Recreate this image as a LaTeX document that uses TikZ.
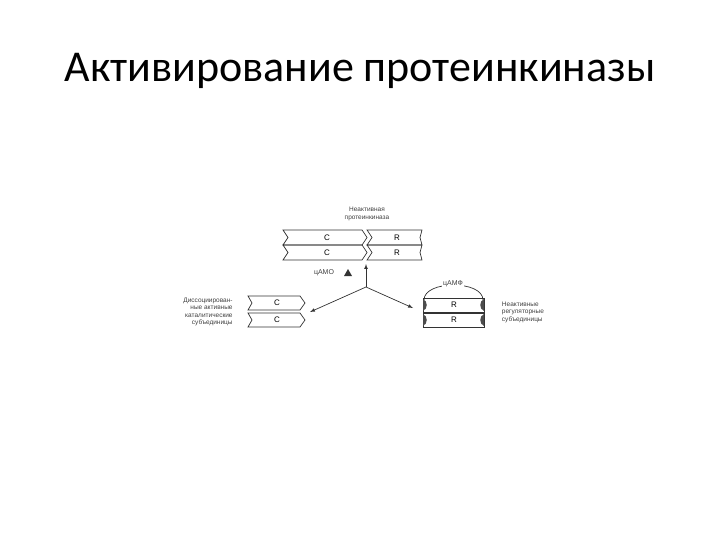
\documentclass[tikz,border=0pt]{standalone}
\usepackage{fontspec}
\setmainfont{Carlito}
\newfontfamily\smallf{Liberation Sans}
\begin{document}
\begin{tikzpicture}[x=1pt,y=-1pt,
  lbl/.style={font=\smallf\fontsize{6.5}{7.5}\selectfont, align=center, text=black!75},
  boxtxt/.style={font=\smallf\fontsize{8}{9}\selectfont},
  ln/.style={draw=black!80, line width=0.7pt},
  arr/.style={ln, -latex}]
\useasboundingbox (0,0) rectangle (720,540);
\node[font=\fontsize{44}{48}\selectfont] (title) at (360,71) {Активирование протеинкиназы};
% top complex
\node[lbl] (top) at (367,214) {Неактивная\\протеинкиназа};
\foreach \y/\n in {230/1,245/2}{
  \draw[ln] (283,\y) -- (362,\y) -- (367,\y+7.5) -- (362,\y+15) -- (283,\y+15) -- (288,\y+7.5) -- cycle;
  \draw[ln] (367,\y) -- (422,\y) -- (420,\y+7.5) -- (422,\y+15) -- (367,\y+15) -- (372,\y+7.5) -- cycle;
  \node[boxtxt] (c\n) at (327,\y+7.5) {C};
  \node[boxtxt] (r\n) at (397,\y+7.5) {R};
}
\coordinate (j) at (366,287);
\coordinate (up) at (366,264);
\draw[arr] (j) -- (up);
\node[lbl, font=\smallf\fontsize{7}{8}\selectfont] (camp1) at (324,273) {цАМО};
\fill[black!80] (344,276) -- (352,276) -- (348,269) -- cycle;
\coordinate (la) at (310,312);
\coordinate (ra) at (413,308);
\draw[arr] (j) -- (la);
\draw[arr] (j) -- (ra);
% left C
\foreach \y/\n in {296/3,313/4}{
  \draw[ln] (248,\y) -- (300,\y) -- (305,\y+7) -- (300,\y+14) -- (248,\y+14) -- (252,\y+7) -- cycle;
  \node[boxtxt] (c\n) at (277,\y+7) {C};
}
\node[lbl, align=right] (ll) at (208,312) {Диссоциирован-\\ные активные\\каталитические\\субъединицы};
% right R
\foreach \y/\n in {298/5,313/6}{
  \draw[ln] (423,\y) rectangle (484,\y+14);
  \fill[black!70] (423,\y+1) .. controls (428,\y+3) and (428,\y+11) .. (423,\y+13) -- cycle;
  \fill[black!70] (484,\y+1) .. controls (479,\y+3) and (479,\y+11) .. (484,\y+13) -- cycle;
  \node[boxtxt] (r\n) at (454,\y+7) {R};
}
\draw[ln] (424,300) .. controls (424,280) and (483,280) .. (483,300);
\node[lbl, fill=white, inner sep=1pt, font=\smallf\fontsize{7}{8}\selectfont] (camp2) at (453,284) {цАМФ};
\node[lbl, align=left] (rl) at (523,312) {Неактивные\\регуляторные\\субъединицы};
\end{tikzpicture}
\end{document}
